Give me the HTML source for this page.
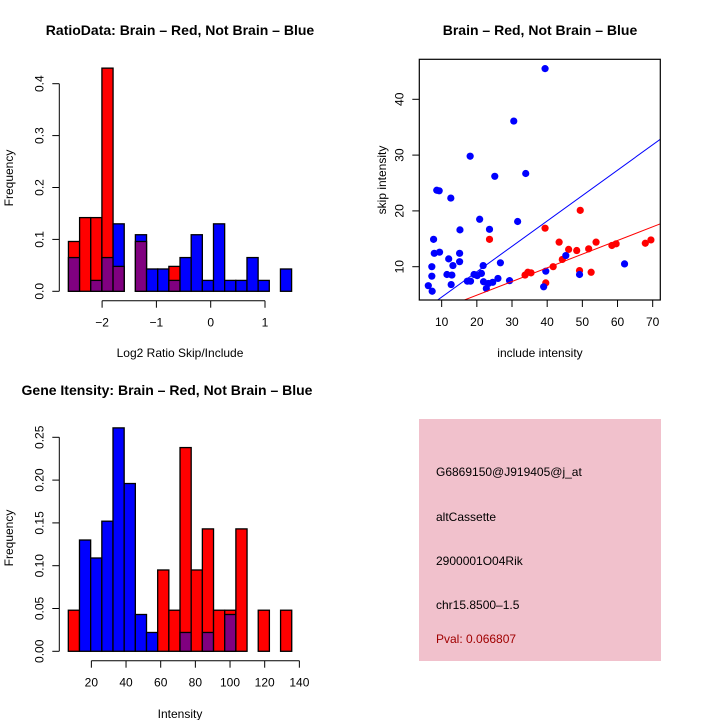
<!DOCTYPE html>
<html><head><meta charset="utf-8"><style>
body{margin:0;background:#fff}
svg{display:block;font-family:"Liberation Sans",sans-serif}
</style></head><body>
<svg id="c" width="720" height="720" viewBox="0 0 720 720">
<rect width="720" height="720" fill="#fff"/>
<g id="h1"></g>
<g id="sc"></g>
<g id="h2"></g>
<g>
<rect x="419" y="419" width="242" height="242" fill="#f1c1cc"/>
<text x="436" y="476" font-size="12">G6869150@J919405@j_at</text>
<text x="436" y="521" font-size="12">altCassette</text>
<text x="436" y="565" font-size="12">2900001O04Rik</text>
<text x="436" y="609" font-size="12">chr15.8500–1.5</text>
<text x="436" y="643" font-size="12" fill="#a00000">Pval: 0.066807</text>
</g>
</svg>
<script>
// ---- Histogram 1 data ----
const h1Start = -2.62, h1Width = 0.2055;
const h1Red  = [0.096,0.142,0.142,0.43,0.048,0,0.096,0,0,0.048,0,0,0,0,0,0,0,0,0,0];
const h1Blue = [0.065,0,0.021,0.065,0.13,0,0.109,0.043,0.043,0.021,0.065,0.109,0.021,0.13,0.021,0.021,0.065,0.021,0,0.043];
const h1XTicks = [-2,-1,0,1];
const h1YTicks = [0.0,0.1,0.2,0.3,0.4];
// ---- Histogram 2 data ----
const h2Start = 6.7, h2Width = 6.445;
const h2Red  = [0.048,0,0,0,0,0,0,0,0.095,0.048,0.238,0.095,0.143,0.048,0.048,0.143,0,0.048,0,0.048];
const h2Blue = [0,0.13,0.109,0.152,0.261,0.196,0.043,0.022,0,0,0.022,0,0.022,0,0.043,0,0,0,0,0];
const h2XTicks = [20,40,60,80,100,120,140];
const h2YTicks = ["0.00","0.05","0.10","0.15","0.20","0.25"];
// ---- Scatter data ----
const blueX = [6.2,7.2,7.2,7.3,7.7,7.9,8.6,9.3,9.4,11.5,12.0,12.6,12.7,12.9,13.2,15.1,15.1,15.2,17.3,18.1,18.2,19.2,20.1,20.8,21.3,21.8,21.9,22.7,23.3,23.6,24.5,25.1,26.0,26.7,29.3,30.5,31.6,33.9,39.0,39.4,39.6,45.3,49.2,62.0];
const blueY = [6.6,8.3,10.0,5.6,14.9,12.4,23.7,23.6,12.6,8.6,11.4,22.3,6.8,8.5,10.2,12.4,10.9,16.6,7.4,29.8,7.4,8.6,8.4,18.5,8.8,10.2,7.3,6.1,7.0,16.7,7.2,26.2,7.9,10.7,7.5,36.1,18.1,26.7,6.4,45.5,9.2,12.0,8.6,10.5];
const redX = [23.6,33.7,34.5,35.4,39.4,39.6,41.7,43.4,44.3,46.1,48.4,49.2,49.4,51.8,52.5,53.9,58.4,59.6,67.9,69.5];
const redY = [14.9,8.5,9.0,8.9,16.9,7.1,10.0,14.4,11.3,13.1,12.9,9.3,20.1,13.2,9.0,14.4,13.8,14.1,14.2,14.8];
const blueSlope = 0.455, redSlope = 0.245;
const scXTicks = [10,20,30,40,50,60,70];
const scYTicks = [10,20,30,40];

const NS="http://www.w3.org/2000/svg";
function mk(parent,tag,attrs,txt){const e=document.createElementNS(NS,tag);for(const k in attrs)e.setAttribute(k,attrs[k]);if(txt!==undefined)e.textContent=txt;parent.appendChild(e);return e;}

function hist(g,opt){
  const X=v=>opt.x0+v*opt.xs, Y=v=>opt.y0-v*opt.ys;
  mk(g,'text',{x:opt.tx,y:opt.ty,'font-size':14,'font-weight':'bold','text-anchor':'middle'},opt.title);
  for(let i=0;i<opt.red.length;i++){
    const a=opt.start+i*opt.w,b=a+opt.w,r=opt.red[i],bl=opt.blue[i];
    const hi=Math.max(r,bl),lo=Math.min(r,bl);
    if(hi>0){
      const e=mk(g,'rect',{x:X(a),y:Y(hi),width:X(b)-X(a),height:Y(0)-Y(hi),fill:r>=bl?'#ff0000':'#0000ff',stroke:'#000','stroke-width':1.3});
      
      
    }
    if(lo>0){
      const e=mk(g,'rect',{x:X(a),y:Y(lo),width:X(b)-X(a),height:Y(0)-Y(lo),fill:'#800080',stroke:'#000','stroke-width':1.3});
      
      
    }
  }
  const ax=opt.axY;
  mk(g,'line',{x1:X(opt.xt[0]),x2:X(opt.xt[opt.xt.length-1]),y1:ax,y2:ax,stroke:'#000'});
  opt.xt.forEach(t=>{mk(g,'line',{x1:X(t),x2:X(t),y1:ax,y2:ax+7,stroke:'#000'});
    const e=mk(g,'text',{x:X(t),y:ax+26,'font-size':12,'text-anchor':'middle'},String(t).replace('-','\u2212'));
    });
  mk(g,'line',{x1:opt.axX,x2:opt.axX,y1:Y(+opt.yt[0]),y2:Y(+opt.yt[opt.yt.length-1]),stroke:'#000'});
  opt.yt.forEach(t=>{const v=+t;mk(g,'line',{x1:opt.axX,x2:opt.axX-7,y1:Y(v),y2:Y(v),stroke:'#000'});
    const e=mk(g,'text',{x:0,y:0,'font-size':12,'text-anchor':'middle',transform:`translate(${opt.axX-16},${Y(v)}) rotate(-90)`},typeof t==='string'?t:t.toFixed(1));
    });
  mk(g,'text',{x:opt.xlx,y:opt.xly,'font-size':12,'text-anchor':'middle'},opt.xlab);
  mk(g,'text',{x:0,y:0,'font-size':12,'text-anchor':'middle',transform:`translate(13,${opt.yly}) rotate(-90)`},'Frequency');
}
hist(document.getElementById('h1'),{x0:210.7,xs:54.3,y0:291.3,ys:519,start:h1Start,w:h1Width,red:h1Red,blue:h1Blue,xt:h1XTicks,yt:h1YTicks,axY:300.7,axX:59.3,title:'RatioData: Brain \u2013 Red, Not Brain \u2013 Blue',tx:180,ty:35,xlab:'Log2 Ratio Skip/Include',xlx:180,xly:357,yly:178});
hist(document.getElementById('h2'),{x0:56.7,xs:1.7333,y0:651.3,ys:856,start:h2Start,w:h2Width,red:h2Red,blue:h2Blue,xt:h2XTicks,yt:h2YTicks,axY:660.7,axX:59.3,title:'Gene Itensity: Brain \u2013 Red, Not Brain \u2013 Blue',tx:167,ty:395,xlab:'Intensity',xlx:180,xly:718,yly:538});

// scatter
(function(){
  const g=document.getElementById('sc');
  const X=v=>406.5+v*3.517, Y=v=>322.5-v*5.58;
  const L=419.3,R=660.3,T=59.3,B=300;
  mk(g,'text',{x:540,y:35,'font-size':14,'font-weight':'bold','text-anchor':'middle'},'Brain \u2013 Red, Not Brain \u2013 Blue');
  const cp=mk(g,'clipPath',{id:'clp'});mk(cp,'rect',{x:L,y:T,width:R-L,height:B-T});
  const lg=mk(g,'g',{'clip-path':'url(#clp)'});
  redX.forEach((x,i)=>{const e=mk(lg,'circle',{cx:X(x),cy:Y(redY[i]),r:3.6,fill:'#ff0000'});
    
    });
  blueX.forEach((x,i)=>{const e=mk(lg,'circle',{cx:X(x),cy:Y(blueY[i]),r:3.6,fill:'#0000ff'});
    
    });
  const bl=mk(lg,'line',{x1:X(0),y1:Y(0),x2:X(80),y2:Y(80*blueSlope),stroke:'#0000ff','stroke-width':1});
  
  const rl=mk(lg,'line',{x1:X(0),y1:Y(0),x2:X(80),y2:Y(80*redSlope),stroke:'#ff0000','stroke-width':1});
  
  mk(g,'rect',{x:L,y:T,width:R-L,height:B-T,fill:'none',stroke:'#000','stroke-width':1.2});
  scXTicks.forEach(t=>{mk(g,'line',{x1:X(t),x2:X(t),y1:B,y2:B+7,stroke:'#000'});
    mk(g,'text',{x:X(t),y:B+26,'font-size':12,'text-anchor':'middle'},t);});
  scYTicks.forEach(t=>{mk(g,'line',{x1:L,x2:L-7,y1:Y(t),y2:Y(t),stroke:'#000'});
    mk(g,'text',{x:0,y:0,'font-size':12,'text-anchor':'middle',transform:`translate(${L-16},${Y(t)}) rotate(-90)`},t);});
  mk(g,'text',{x:540,y:357,'font-size':12,'text-anchor':'middle'},'include intensity');
  mk(g,'text',{x:0,y:0,'font-size':12,'text-anchor':'middle',transform:`translate(386,180) rotate(-90)`},'skip intensity');
})();
</script>
</body></html>
